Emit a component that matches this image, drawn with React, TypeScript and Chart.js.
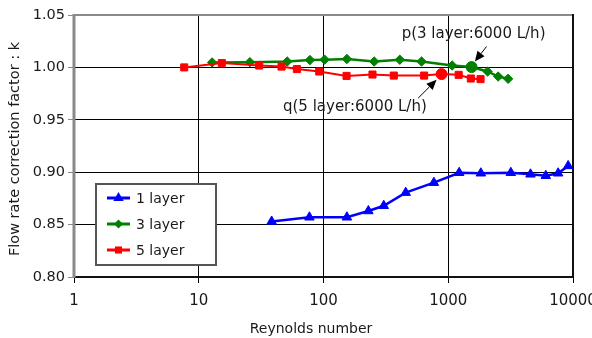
import React, { useEffect, useRef } from 'react';
import { Chart, registerables } from 'chart.js';

Chart.register(...registerables);

// ---- data ----
const xTickValues = [1, 10, 100, 1000, 10000];
const yTickValues = [0.8, 0.85, 0.9, 0.95, 1.0, 1.05];

const seriesNames = ['1 layer', '3 layer', '5 layer'];

const layer1Re = [38.4, 77.1, 154, 229, 304, 456, 767, 1223, 1825, 3175, 4565, 6050, 7600, 9140];
const layer1K = [0.853, 0.857, 0.857, 0.863, 0.868, 0.8805, 0.89, 0.8995, 0.899, 0.8995, 0.898, 0.8966, 0.899, 0.906];

const layer3Re = [12.8, 25.7, 51.2, 77.8, 102, 154, 255, 409, 611, 1075, 1538, 2066, 2512, 3020];
const layer3K = [1.0047, 1.005, 1.0056, 1.007, 1.0074, 1.008, 1.0056, 1.0073, 1.0056, 1.0018, 1.0003, 0.9961, 0.9913, 0.9891];

const layer5Re = [7.65, 15.3, 30.5, 46.1, 61.2, 92.4, 153, 247, 366, 641, 884, 1212, 1517, 1815];
const layer5K = [1.0, 1.0041, 1.0018, 1.0008, 0.9984, 0.9961, 0.9919, 0.9932, 0.9922, 0.9922, 0.9936, 0.9929, 0.9894, 0.9888];

const highlightIndex3 = 10;
const highlightIndex5 = 10;

const annotationP = 'p(3 layer:6000 L/h)';
const annotationQ = 'q(5 layer:6000 L/h)';

const xTitle = 'Reynolds number';
const yTitle = 'Flow rate correction factor : k';

const FONT = '"DejaVu Sans", sans-serif';
const BLUE = '#0000ff';
const GREEN = '#008000';
const RED = '#ff0000';

function drawMarker(ctx: CanvasRenderingContext2D, style: string, x: number, y: number, r: number, color: string) {
  ctx.save();
  ctx.fillStyle = color;
  ctx.beginPath();
  if (style === 'triangle') {
    ctx.moveTo(x, y - r);
    ctx.lineTo(x + r * 0.866, y + r * 0.5);
    ctx.lineTo(x - r * 0.866, y + r * 0.5);
  } else if (style === 'rectRot') {
    ctx.moveTo(x - r, y);
    ctx.lineTo(x, y - r);
    ctx.lineTo(x + r, y);
    ctx.lineTo(x, y + r);
  } else {
    const s = r * Math.SQRT1_2;
    ctx.rect(x - s, y - s, 2 * s, 2 * s);
  }
  ctx.closePath();
  ctx.fill();
  ctx.restore();
}

function arrow(ctx: CanvasRenderingContext2D, x0: number, y0: number, x1: number, y1: number) {
  const ang = Math.atan2(y1 - y0, x1 - x0);
  const len = 10;
  const hw = 4.5;
  const bx = x1 - Math.cos(ang) * len;
  const by = y1 - Math.sin(ang) * len;
  ctx.save();
  ctx.strokeStyle = '#000';
  ctx.fillStyle = '#000';
  ctx.lineWidth = 1;
  ctx.beginPath();
  ctx.moveTo(x0, y0);
  ctx.lineTo(bx, by);
  ctx.stroke();
  ctx.beginPath();
  ctx.moveTo(x1, y1);
  ctx.lineTo(bx - Math.sin(ang) * hw, by + Math.cos(ang) * hw);
  ctx.lineTo(bx + Math.sin(ang) * hw, by - Math.cos(ang) * hw);
  ctx.closePath();
  ctx.fill();
  ctx.restore();
}

const extrasPlugin = {
  id: 'extras',
  beforeDatasetsDraw(chart: any) {
    const { ctx, chartArea: a } = chart;
    ctx.save();
    ctx.lineCap = 'butt';
    const seg = (x0: number, y0: number, x1: number, y1: number) => {
      ctx.beginPath();
      ctx.moveTo(x0, y0);
      ctx.lineTo(x1, y1);
      ctx.stroke();
    };
    ctx.strokeStyle = '#8a8a8a';
    ctx.lineWidth = 2;
    seg(a.left, a.top, a.right, a.top);
    ctx.lineWidth = 3;
    seg(a.left, a.top - 1, a.left, a.bottom + 1);
    ctx.strokeStyle = '#111';
    ctx.lineWidth = 2;
    seg(a.left + 1.5, a.bottom, a.right + 1, a.bottom);
    seg(a.right, a.top - 1, a.right, a.bottom + 1);
    ctx.restore();
  },
  afterDraw(chart: any) {
    const { ctx } = chart;
    const xs = chart.scales.x;
    const ys = chart.scales.y;
    ctx.save();
    ctx.fillStyle = '#1a1a1a';
    // axis titles
    ctx.font = `14px ${FONT}`;
    ctx.textAlign = 'center';
    ctx.textBaseline = 'middle';
    ctx.fillText(xTitle, 311, 329);
    ctx.save();
    ctx.font = `14.5px ${FONT}`;
    ctx.translate(15.5, 149);
    ctx.rotate(-Math.PI / 2);
    ctx.fillText(yTitle, 0, 0);
    ctx.restore();

    // legend
    const lx = 96, ly = 184, lw = 120, lh = 81;
    ctx.fillStyle = '#fff';
    ctx.fillRect(lx, ly, lw, lh);
    ctx.strokeStyle = '#555';
    ctx.lineWidth = 2;
    ctx.strokeRect(lx, ly, lw, lh);
    const rows = [
      { name: seriesNames[0], color: BLUE, style: 'triangle', r: 6 },
      { name: seriesNames[1], color: GREEN, style: 'rectRot', r: 4.5 },
      { name: seriesNames[2], color: RED, style: 'rect', r: 5 },
    ];
    rows.forEach((row, i) => {
      const y = 198 + i * 26;
      ctx.strokeStyle = row.color;
      ctx.lineWidth = 3;
      ctx.beginPath();
      ctx.moveTo(107, y);
      ctx.lineTo(130, y);
      ctx.stroke();
      drawMarker(ctx, row.style, 118.5, y, row.r, row.color);
      ctx.fillStyle = '#1a1a1a';
      ctx.font = `14px ${FONT}`;
      ctx.textAlign = 'left';
      ctx.textBaseline = 'middle';
      ctx.fillText(row.name, 136, y + 1);
    });

    // annotations
    const pX = xs.getPixelForValue(layer3Re[highlightIndex3]);
    const pY = ys.getPixelForValue(layer3K[highlightIndex3]);
    const qX = xs.getPixelForValue(layer5Re[highlightIndex5]);
    const qY = ys.getPixelForValue(layer5K[highlightIndex5]);
    ctx.fillStyle = '#1a1a1a';
    ctx.font = `15px ${FONT}`;
    ctx.textAlign = 'center';
    ctx.textBaseline = 'middle';
    ctx.fillText(annotationP, pX + 2, pY - 33);
    arrow(ctx, pX + 15, pY - 20.6, pX + 3.3, pY - 5.6);
    ctx.fillText(annotationQ, qX - 86.7, qY + 33);
    arrow(ctx, qX - 23.4, qY + 24, qX - 5, qY + 5.7);
    ctx.restore();
  },
};

function toPoints(xs: number[], ys: number[]) {
  return xs.map((x, i) => ({ x, y: ys[i] }));
}

export default function App() {
  const ref = useRef<HTMLCanvasElement | null>(null);

  useEffect(() => {
    document.body.style.margin = '0';
    const canvas = ref.current;
    if (!canvas) return;
    const n3 = layer3Re.length;
    const n5 = layer5Re.length;
    const chart = new Chart(canvas, {
      type: 'line',
      data: {
        datasets: [
          {
            label: seriesNames[0],
            data: toPoints(layer1Re, layer1K),
            borderColor: BLUE,
            backgroundColor: BLUE,
            borderWidth: 2.5,
            pointStyle: 'triangle',
            pointRadius: 5.5,
            pointBorderWidth: 1,
            order: 2,
          },
          {
            label: seriesNames[1],
            data: toPoints(layer3Re, layer3K),
            borderColor: GREEN,
            backgroundColor: GREEN,
            borderWidth: 2.5,
            pointStyle: Array.from({ length: n3 }, (_, i) => (i === highlightIndex3 ? 'circle' : 'rectRot')),
            pointRadius: Array.from({ length: n3 }, (_, i) => (i === highlightIndex3 ? 5.5 : 4.7)),
            pointBorderWidth: 1,
            order: 1,
          },
          {
            label: seriesNames[2],
            data: toPoints(layer5Re, layer5K),
            borderColor: RED,
            backgroundColor: RED,
            borderWidth: 2,
            pointStyle: Array.from({ length: n5 }, (_, i) => (i === highlightIndex5 ? 'circle' : 'rect')),
            pointRadius: Array.from({ length: n5 }, (_, i) => (i === highlightIndex5 ? 5.5 : 5)),
            pointBorderWidth: 1,
            order: 0,
          },
        ],
      },
      options: {
        responsive: false,
        animation: false,
        devicePixelRatio: 1,
        layout: { padding: { left: 0, right: 19, top: 15, bottom: 0 } },
        plugins: {
          legend: { display: false },
          tooltip: { enabled: false },
        },
        elements: { line: { tension: 0 } },
        scales: {
          x: {
            type: 'logarithmic',
            min: 1,
            max: 10000,
            afterBuildTicks: (s: any) => {
              s.ticks = xTickValues.map((v) => ({ value: v }));
            },
            afterFit: (s: any) => {
              s.height = 61;
              s.paddingLeft = 0;
              s.paddingRight = 0;
            },
            ticks: {
              autoSkip: false,
              maxRotation: 0,
              padding: 9,
              color: '#1a1a1a',
              font: { family: FONT, size: 15 },
              callback: (v: any) => String(v),
            },
            grid: { color: '#000', lineWidth: 1, tickLength: 6, tickColor: '#000' },
            border: { display: false },
          },
          y: {
            type: 'linear',
            min: 0.8,
            max: 1.05,
            afterBuildTicks: (s: any) => {
              s.ticks = yTickValues.map((v) => ({ value: v }));
            },
            afterFit: (s: any) => {
              s.width = 74;
              s.paddingTop = 0;
              s.paddingBottom = 0;
            },
            ticks: {
              padding: 3,
              color: '#1a1a1a',
              font: { family: FONT, size: 14.5 },
              callback: (v: any) => Number(v).toFixed(2),
            },
            grid: { color: '#000', lineWidth: 1, tickLength: 6, tickColor: '#8a8a8a' },
            border: { display: false },
          },
        },
      },
      plugins: [extrasPlugin],
    } as any);
    return () => chart.destroy();
  }, []);

  return (
    <div style={{ width: 592, height: 338 }}>
      <canvas ref={ref} width={592} height={338} style={{ display: 'block', width: 592, height: 338 }} />
    </div>
  );
}
